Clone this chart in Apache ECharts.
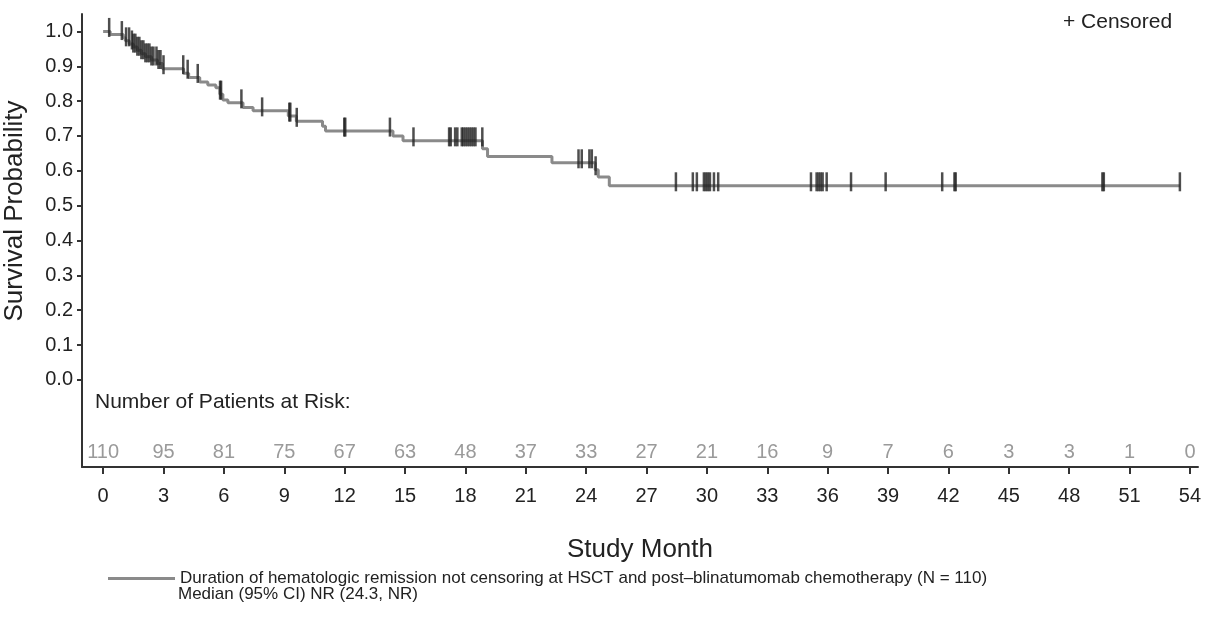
<!DOCTYPE html>
<html>
<head>
<meta charset="utf-8">
<script src="https://cdn.jsdelivr.net/npm/echarts@6/dist/echarts.min.js"></script>
<style>
  html, body { margin: 0; padding: 0; background: #fff; }
  #km { width: 1210px; height: 642px; }
</style>
</head>
<body>
<div id="km"></div>
<script>
// Kaplan-Meier steps (month, survival after the event)
var kmMonths = [0, 0.35, 1.0, 1.1, 1.3, 1.5, 1.7, 1.9, 2.1, 2.4, 2.7, 2.95, 4.0, 4.25, 4.8, 5.2, 5.6, 5.8, 5.95, 6.2, 6.95, 7.45, 9.2, 9.6, 10.9, 11.05, 14.4, 14.9, 18.85, 19.1, 22.3, 24.45, 24.6, 25.15, 53.5];
var kmSurvival = [1.0, 0.991, 0.982, 0.973, 0.964, 0.955, 0.946, 0.936, 0.927, 0.918, 0.908, 0.893, 0.880, 0.868, 0.855, 0.846, 0.838, 0.820, 0.803, 0.795, 0.782, 0.772, 0.757, 0.742, 0.728, 0.714, 0.700, 0.686, 0.663, 0.641, 0.623, 0.603, 0.582, 0.557, 0.557];

// censored observations (months)
var censorMonths = [0.3, 0.93, 1.14, 1.29, 1.43, 1.5, 1.6, 1.7, 1.8, 1.9, 2.0, 2.1, 2.2, 2.3, 2.4, 2.5, 2.65, 2.75, 2.85, 3.0, 3.98, 4.2, 4.7, 5.81, 5.86, 6.87, 7.9, 9.25, 9.3, 9.62, 11.98, 12.03, 14.25, 15.42, 17.19, 17.27, 17.49, 17.6, 17.82, 17.9, 18.0, 18.1, 18.2, 18.3, 18.4, 18.5, 18.84, 23.62, 23.78, 24.16, 24.28, 24.47, 28.46, 29.3, 29.5, 29.85, 29.95, 30.05, 30.15, 30.35, 30.56, 35.17, 35.45, 35.55, 35.65, 35.75, 35.95, 37.16, 38.88, 41.69, 42.3, 42.36, 49.65, 49.72, 53.5];

// number at risk
var riskMonths = [0, 3, 6, 9, 12, 15, 18, 21, 24, 27, 30, 33, 36, 39, 42, 45, 48, 51, 54];
var riskCounts = [110, 95, 81, 75, 67, 63, 48, 37, 33, 27, 21, 16, 9, 7, 6, 3, 3, 1, 0];

var yTicks = [0, 0.1, 0.2, 0.3, 0.4, 0.5, 0.6, 0.7, 0.8, 0.9, 1.0];

var seriesName = 'Duration of hematologic remission not censoring at HSCT and post\u2013blinatumomab chemotherapy (N = 110)';
var FONT = '"Liberation Sans", Arial, sans-serif';

function survivalAt(t) {
    var s = kmSurvival[0];
    for (var i = 0; i < kmMonths.length; i++) {
        if (kmMonths[i] <= t) s = kmSurvival[i];
    }
    return s;
}

var kmData = kmMonths.map(function (m, i) { return [m, kmSurvival[i]]; });
var censorData = censorMonths.map(function (m) { return [m, survivalAt(m)]; });

var chart = echarts.init(document.getElementById('km'));
chart.setOption({
    animation: false,
    textStyle: { fontFamily: FONT },
    grid: { left: 82, top: 14, width: 1116, height: 453, containLabel: false },
    legend: {
        data: [{ name: seriesName, icon: 'rect' }],
        left: 103, top: 565,
        itemWidth: 67, itemHeight: 3,
        textStyle: { fontFamily: FONT, fontSize: 17, color: '#222' }
    },
    xAxis: [{
        type: 'value', min: -1.05, max: 54.4,
        name: 'Study Month', nameLocation: 'middle', nameGap: 70,
        nameTextStyle: { fontFamily: FONT, fontSize: 26, color: '#222' },
        axisLine: { onZero: false, lineStyle: { color: '#333', width: 2 } },
        axisTick: { customValues: riskMonths, length: 7, lineStyle: { color: '#333', width: 2 } },
        axisLabel: { customValues: riskMonths, margin: 19, fontSize: 20, color: '#222', fontFamily: FONT },
        splitLine: { show: false }
    }, {
        type: 'value', min: -1.05, max: 54.4, position: 'bottom',
        axisLine: { show: false, onZero: false },
        axisTick: { show: false },
        axisLabel: {
            inside: true, margin: 5, customValues: riskMonths,
            fontSize: 20, color: '#9a9a9a', fontFamily: FONT,
            formatter: function (v) { return riskCounts[riskMonths.indexOf(v)]; }
        },
        splitLine: { show: false }
    }],
    yAxis: {
        type: 'value', min: -0.25, max: 1.05,
        axisLine: { show: true, onZero: false, lineStyle: { color: '#333', width: 2 } },
        axisTick: { show: true, customValues: yTicks, length: 5, lineStyle: { color: '#333', width: 2 } },
        axisLabel: {
            customValues: yTicks, margin: 9, fontSize: 20, color: '#222', fontFamily: FONT,
            formatter: function (v) { return v.toFixed(1); }
        },
        splitLine: { show: false }
    },
    graphic: [
        {
            type: 'text', x: 15, y: 211, rotation: Math.PI / 2,
            style: { text: 'Survival Probability', font: '26px ' + FONT, fill: '#222', align: 'center', verticalAlign: 'middle' }
        },
        {
            type: 'text', x: 95, y: 402,
            style: { text: 'Number of Patients at Risk:', font: '21px ' + FONT, fill: '#222', align: 'left', verticalAlign: 'middle' }
        },
        {
            type: 'text', x: 1063, y: 22,
            style: { text: '+ Censored', font: '21px ' + FONT, fill: '#222', align: 'left', verticalAlign: 'middle' }
        },
        {
            type: 'text', x: 178, y: 594,
            style: { text: 'Median (95% CI) NR (24.3, NR)', font: '17px ' + FONT, fill: '#222', align: 'left', verticalAlign: 'middle' }
        }
    ],
    series: [{
        name: seriesName,
        type: 'line',
        step: 'end',
        symbol: 'none',
        data: kmData,
        lineStyle: { color: '#8a8a8a', width: 3 },
        itemStyle: { color: '#8a8a8a' },
        z: 2
    }, {
        name: 'Censored',
        type: 'scatter',
        symbol: 'rect',
        symbolSize: [2.5, 19],
        symbolOffset: [0, -4],
        data: censorData,
        itemStyle: { color: '#222' },
        z: 3
    }]
});
</script>
</body>
</html>
